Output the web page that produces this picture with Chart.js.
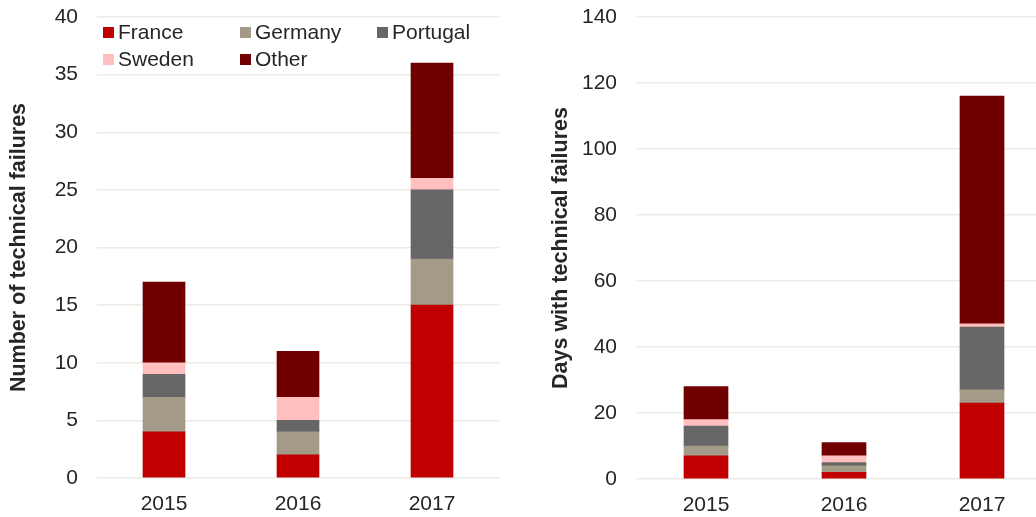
<!DOCTYPE html>
<html lang="en">
<head>
<meta charset="UTF-8">
<title>Technical failures</title>
<script src="https://cdn.jsdelivr.net/npm/chart.js"></script>
<style>
    body {
        margin: 0;
        width: 1036px;
        height: 517px;
        overflow: hidden;
        background: #fff;
        font-family: 'Liberation Sans', Arial, sans-serif;
        position: relative;
    }
    .panel { position: absolute; top: 0; height: 517px; }
    #left-panel { left: 0; width: 510px; }
    #right-panel { left: 540px; width: 520px; }
    .legend {
        position: absolute;
        left: 103px;
        top: 18px;
        display: grid;
        grid-template-columns: 137px 137px 137px;
        font-size: 21px;
        line-height: 27px;
        color: #262626;
    }
    .legend span.box {
        display: inline-block;
        width: 11px;
        height: 11px;
        margin-right: 4px;
        vertical-align: 1px;
    }
</style>
</head>
<body>
<div class="panel" id="left-panel">
    <canvas id="count-chart" width="510" height="517"></canvas>
    <div class="legend" id="legend"></div>
</div>
<div class="panel" id="right-panel">
    <canvas id="days-chart" width="520" height="517"></canvas>
</div>

<script>
    // data
    const years = ['2015', '2016', '2017'];
    const countries = ['France', 'Germany', 'Portugal', 'Sweden', 'Other'];
    const colors = ['#C00000', '#A39B88', '#666666', '#FFBFBF', '#700000'];

    // number of technical failures
    const failFrance = [4, 2, 15];
    const failGermany = [3, 2, 4];
    const failPortugal = [2, 1, 6];
    const failSweden = [1, 2, 1];
    const failOther = [7, 4, 10];

    // days with technical failures
    const daysFrance = [7, 2, 23];
    const daysGermany = [3, 2, 4];
    const daysPortugal = [6, 1, 19];
    const daysSweden = [2, 2, 1];
    const daysOther = [10, 4, 69];

    const leftTicks = [0, 5, 10, 15, 20, 25, 30, 35, 40];
    const rightTicks = [0, 20, 40, 60, 80, 100, 120, 140];

    const textColor = '#262626';
    const gridColor = '#ECECE6';
    const tickFont = { family: "'Liberation Sans', Arial, sans-serif", size: 21 };
    const titleFont = { family: "'Liberation Sans', Arial, sans-serif", size: 21.5, weight: 'bold' };

    function makeDatasets(series, thickness) {
        return series.map((values, i) => ({
            label: countries[i],
            data: values,
            backgroundColor: colors[i],
            borderWidth: 0,
            barThickness: thickness
        }));
    }

    function makeChart(id, series, ticks, title, opts) {
        const ctx = document.getElementById(id).getContext('2d');
        return new Chart(ctx, {
            type: 'bar',
            data: {
                labels: years,
                datasets: makeDatasets(series, opts.thickness)
            },
            options: {
                responsive: false,
                animation: false,
                layout: { padding: { top: 17, right: opts.right, bottom: 0, left: 0 } },
                plugins: {
                    legend: { display: false },
                    tooltip: { enabled: false }
                },
                scales: {
                    x: {
                        stacked: true,
                        grid: { display: false, drawTicks: false },
                        border: { display: false },
                        ticks: { font: tickFont, color: textColor, padding: 14 },
                        afterFit(scale) { scale.height = opts.xHeight; }
                    },
                    y: {
                        stacked: true,
                        min: ticks[0],
                        max: ticks[ticks.length - 1],
                        afterBuildTicks(scale) { scale.ticks = ticks.map(v => ({ value: v })); },
                        ticks: { font: tickFont, color: textColor, padding: opts.tickPad },
                        grid: { color: gridColor, lineWidth: 1.5, drawTicks: false },
                        border: { display: false },
                        title: {
                            display: true,
                            text: title,
                            font: titleFont,
                            color: textColor,
                            padding: { top: opts.titlePad, bottom: 0 }
                        },
                        afterFit(scale) {
                            // keep the plot area where the original has it
                            scale.width = 97;
                            scale.paddingTop = 0;
                            scale.paddingBottom = 0;
                        }
                    }
                }
            }
        });
    }

    makeChart('count-chart',
        [failFrance, failGermany, failPortugal, failSweden, failOther],
        leftTicks, 'Number of technical failures',
        { thickness: 42, right: 11, xHeight: 39, tickPad: 19, titlePad: 6 });

    makeChart('days-chart',
        [daysFrance, daysGermany, daysPortugal, daysSweden, daysOther],
        rightTicks, 'Days with technical failures',
        { thickness: 44, right: 9, xHeight: 38, tickPad: 20, titlePad: 8 });

    // legend laid out in a grid like the original
    const legend = document.getElementById('legend');
    countries.forEach((name, i) => {
        const item = document.createElement('div');
        item.innerHTML = '<span class="box" style="background:' + colors[i] + '"></span>' + name;
        legend.appendChild(item);
    });
</script>
</body>
</html>
